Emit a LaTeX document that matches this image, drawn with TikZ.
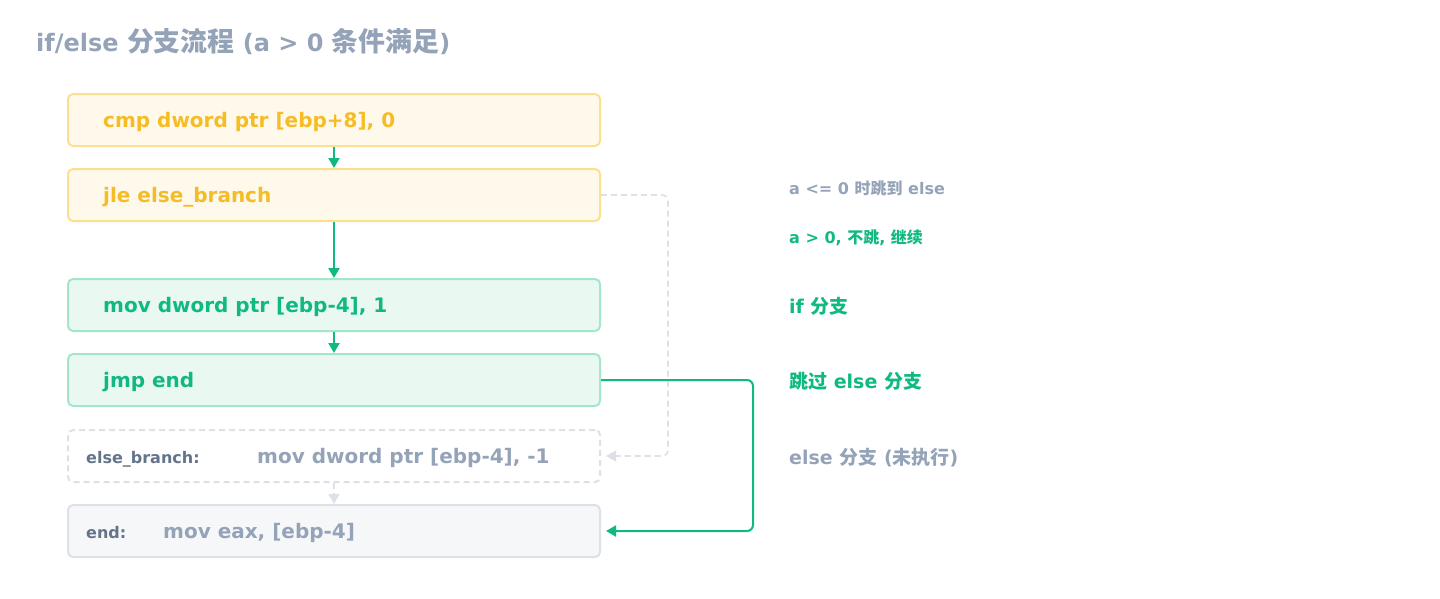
\documentclass[tikz,border=0pt]{standalone}
\usepackage{fontspec}
\setmainfont{DejaVu Sans}
\newfontfamily\cjk{Noto Sans CJK SC}
\newfontfamily\cjkbig[Scale=1.12]{Noto Sans CJK SC}
\usetikzlibrary{arrows.meta}
\definecolor{amber}{HTML}{F6BC25}
\definecolor{amberline}{HTML}{FDE08F}
\definecolor{amberfill}{HTML}{FFF9EB}
\definecolor{emerald}{HTML}{10B981}
\definecolor{emeraldline}{HTML}{A3E6CC}
\definecolor{emeraldfill}{HTML}{EAF8F2}
\definecolor{slate}{HTML}{94A3B8}
\definecolor{slatedark}{HTML}{64748B}
\definecolor{slateline}{HTML}{DDE1E7}
\definecolor{slatefill}{HTML}{F6F7F9}
\newcommand{\zh}[1]{{\cjk #1}}
\newcommand{\zhbig}[1]{{\cjkbig #1}}
\tikzstyle{box}=[draw,rounded corners=5pt,line width=2pt,minimum width=532pt,minimum height=52pt,inner sep=0pt]
\tikzstyle{condbox}=[box,draw=amberline,fill=amberfill]
\tikzstyle{ifbox}=[box,draw=emeraldline,fill=emeraldfill]
\tikzstyle{elsebox}=[box,draw=slateline,dashed,dash pattern=on 6pt off 4pt,fill=white]
\tikzstyle{endbox}=[box,draw=slateline,fill=slatefill]
\tikzstyle{code}=[anchor=base west,inner sep=0pt,font=\fontsize{20}{24}\selectfont\bfseries]
\tikzstyle{tag}=[anchor=base west,inner sep=0pt,font=\fontsize{16}{20}\selectfont\bfseries,text=slatedark]
\tikzstyle{note}=[anchor=base west,inner sep=0pt,font=\fontsize{16}{20}\selectfont\bfseries]
\tikzstyle{bignote}=[anchor=base west,inner sep=0pt,font=\fontsize{19}{23}\selectfont\bfseries]
\tikzstyle{flow}=[draw=emerald,line width=2pt,-{Triangle[length=10pt,width=11pt]}]
\tikzstyle{skip}=[draw=slateline,line width=1.6pt,dashed,dash pattern=on 6pt off 4pt,-{Triangle[length=10pt,width=11pt]}]

\begin{document}
\begin{tikzpicture}[x=1pt,y=-1pt]
\useasboundingbox (0,0) rectangle (1440,598);
\node[anchor=base west,inner sep=0pt,text=slate,font=\fontsize{24}{28}\selectfont\bfseries] (title) at (36,51) {if/else \zhbig{分支流程} (a > 0 \zhbig{条件满足})};
% instruction boxes
\node[condbox] (Cmp) at (334,120) {};
\node[condbox] (Jle) at (334,195) {};
\node[ifbox] (MovA) at (334,305) {};
\node[ifbox] (Jmp) at (334,380) {};
\node[elsebox] (MovB) at (334,456) {};
\node[endbox] (End) at (334,531) {};
\node[code,text=amber] (CmpT) at (103,127) {cmp dword ptr [ebp+8], 0};
\node[code,text=amber] (JleT) at (103,202) {jle else\_branch};
\node[code,text=emerald] (MovAT) at (103,312) {mov dword ptr [ebp-4], 1};
\node[code,text=emerald] (JmpT) at (103,387) {jmp end};
\node[tag] (ElseL) at (86,463) {else\_branch:};
\node[code,text=slate] (MovBT) at (257,463) {mov dword ptr [ebp-4], -1};
\node[tag] (EndL) at (86,538) {end:};
\node[code,text=slate] (EndT) at (163,538) {mov eax, [ebp-4]};
% notes
\node[note,text=slate] (N1) at (789,194) {a <= 0 \zh{时跳到} else};
\node[note,text=emerald] (N2) at (789,243) {a > 0, \zh{不跳}, \zh{继续}};
\node[bignote,text=emerald] (N3) at (789,313) {if \zh{分支}};
\node[bignote,text=emerald] (N4) at (789,388) {\zh{跳过} else \zh{分支}};
\node[bignote,text=slate] (N5) at (789,464) {else \zh{分支} (\zh{未执行})};
% connectors
\coordinate (jleout) at (668,195);
\coordinate (jmpout) at (753,380);
\draw[flow] (Cmp) -- (Jle);
\draw[flow,line width=2.6pt] (Jle) -- (MovA);
\draw[flow] (MovA) -- (Jmp);
\draw[skip] (MovB) -- (End);
\draw[skip,rounded corners=6pt] (Jle.east) -- (jleout) |- ([xshift=5pt]MovB.east);
\draw[flow,rounded corners=6pt] (Jmp.east) -- (jmpout) |- ([xshift=5pt]End.east);
\end{tikzpicture}
\end{document}
